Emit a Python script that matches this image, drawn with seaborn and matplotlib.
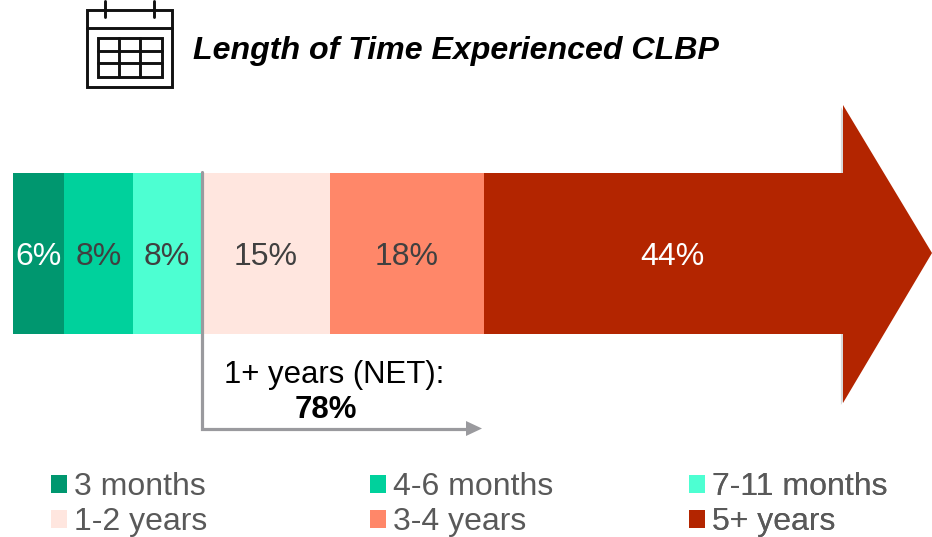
import matplotlib
matplotlib.use("Agg")
import matplotlib.pyplot as plt
import matplotlib.patheffects as pe
from matplotlib.patches import Patch, Polygon, Rectangle
import pandas as pd
import seaborn as sns

categories = ["3 months", "4-6 months", "7-11 months", "1-2 years", "3-4 years", "5+ years"]
values = [6, 8, 8, 15, 18, 44]
colors = ["#00976F", "#00D19C", "#4DFFD2", "#FFE6DF", "#FF8769", "#B32500"]
label_colors = ["white", "#404040", "#404040", "#404040", "#404040", "white"]
net_label = "1+ years (NET):"
net_value = "78%"
title = "Length of Time Experienced CLBP"

sns.set_theme(style="white")
plt.rcParams["font.family"] = ["Liberation Sans", "DejaVu Sans"]

W, H = 932, 537
fig = plt.figure(figsize=(W / 100, H / 100), dpi=100)

# bars: axes spans the figure; data scale chosen to land on the picture's bar edges
PX_PER_PCT = 8.56
BAR_H = 161
ax = fig.add_axes([0, 0, 1, 1])
df = pd.DataFrame({"cat": categories, "value": values})
df["left"] = df["value"].cumsum().shift(fill_value=0)
df["row"] = "all"
for (_, r), c in zip(df.iterrows(), colors):
    sns.barplot(data=pd.DataFrame([r]), x="value", y="row", left=r["left"],
                color=c, saturation=1, width=1, orient="h", ax=ax, linewidth=0, zorder=2)
ax.set_xlim(-13 / PX_PER_PCT, (W - 13) / PX_PER_PCT)
ax.set_ylim((253.5 - H) / BAR_H * -1, -253.5 / BAR_H)
ax.set_axis_off()
for (_, r), tc in zip(df.iterrows(), label_colors):
    ax.text(r["left"] + r["value"] / 2, 3.5 / BAR_H, f"{r['value']}%", ha="center", va="center",
            fontsize=23, color=tc, zorder=6)

# decoration overlay in picture pixels
ov = fig.add_axes([0, 0, 1, 1], facecolor="none")
ov.set_xlim(0, W)
ov.set_ylim(H, 0)
ov.set_axis_off()

# arrow head with soft shadow, beneath the bars
head = Polygon([(843, 105), (932, 253), (843, 403)], closed=True, facecolor=colors[5],
               edgecolor="none", zorder=1, transform=ov.transData)
head.set_path_effects([pe.SimplePatchShadow(offset=(-1.5, -1.5), alpha=0.22, shadow_rgbFace="#555555"), pe.Normal()])
ax.add_patch(head)

# calendar icon
ik = "#111111"
lw = 2.1
ov.add_patch(Rectangle((87, 10), 85, 77, fill=False, ec=ik, lw=lw))
ov.plot([87, 172], [28, 28], color=ik, lw=lw)
for x in (105, 154):
    ov.plot([x, x], [1, 17], color=ik, lw=lw)
ov.add_patch(Rectangle((97.5, 38), 64, 38.5, fill=False, ec=ik, lw=lw))
for x in (119, 140):
    ov.plot([x, x], [38, 76.5], color=ik, lw=lw)
for y in (51, 63):
    ov.plot([97.5, 161.5], [y, y], color=ik, lw=lw)

ov.text(193, 51, title, fontsize=23.1, fontweight="bold", fontstyle="italic", color="black",
        ha="left", va="center")

# NET bracket
grey = "#9A9A9E"
ov.plot([201.5, 201.5, 470], [172, 428.5, 428.5], color=grey, lw=2.3, solid_joinstyle="miter", zorder=4)
ov.add_patch(Polygon([(466, 421), (482, 428.5), (466, 436)], closed=True, fc=grey, ec="none", zorder=4))
ov.text(334, 375, net_label, fontsize=22.4, color="black", ha="center", va="center")
ov.text(326, 410, net_value, fontsize=22.4, fontweight="bold", color="black", ha="center", va="center")

# legend: three columns of two rows
for col, (x0, idx) in enumerate(zip((51, 370, 689), ((0, 3), (1, 4), (2, 5)))):
    handles = [Patch(facecolor=colors[i], edgecolor="none", label=categories[i]) for i in idx]
    leg = ov.legend(handles=handles, loc="upper left", bbox_to_anchor=(x0 / W, 1 - 472 / H),
                    bbox_transform=fig.transFigure, frameon=False, fontsize=23,
                    handlelength=0.5, handleheight=0.5, handletextpad=0.22,
                    labelspacing=0.16, borderaxespad=0, borderpad=0, labelcolor="#595959")
    ov.add_artist(leg)

fig.savefig("out.png", dpi=100, facecolor="white")
